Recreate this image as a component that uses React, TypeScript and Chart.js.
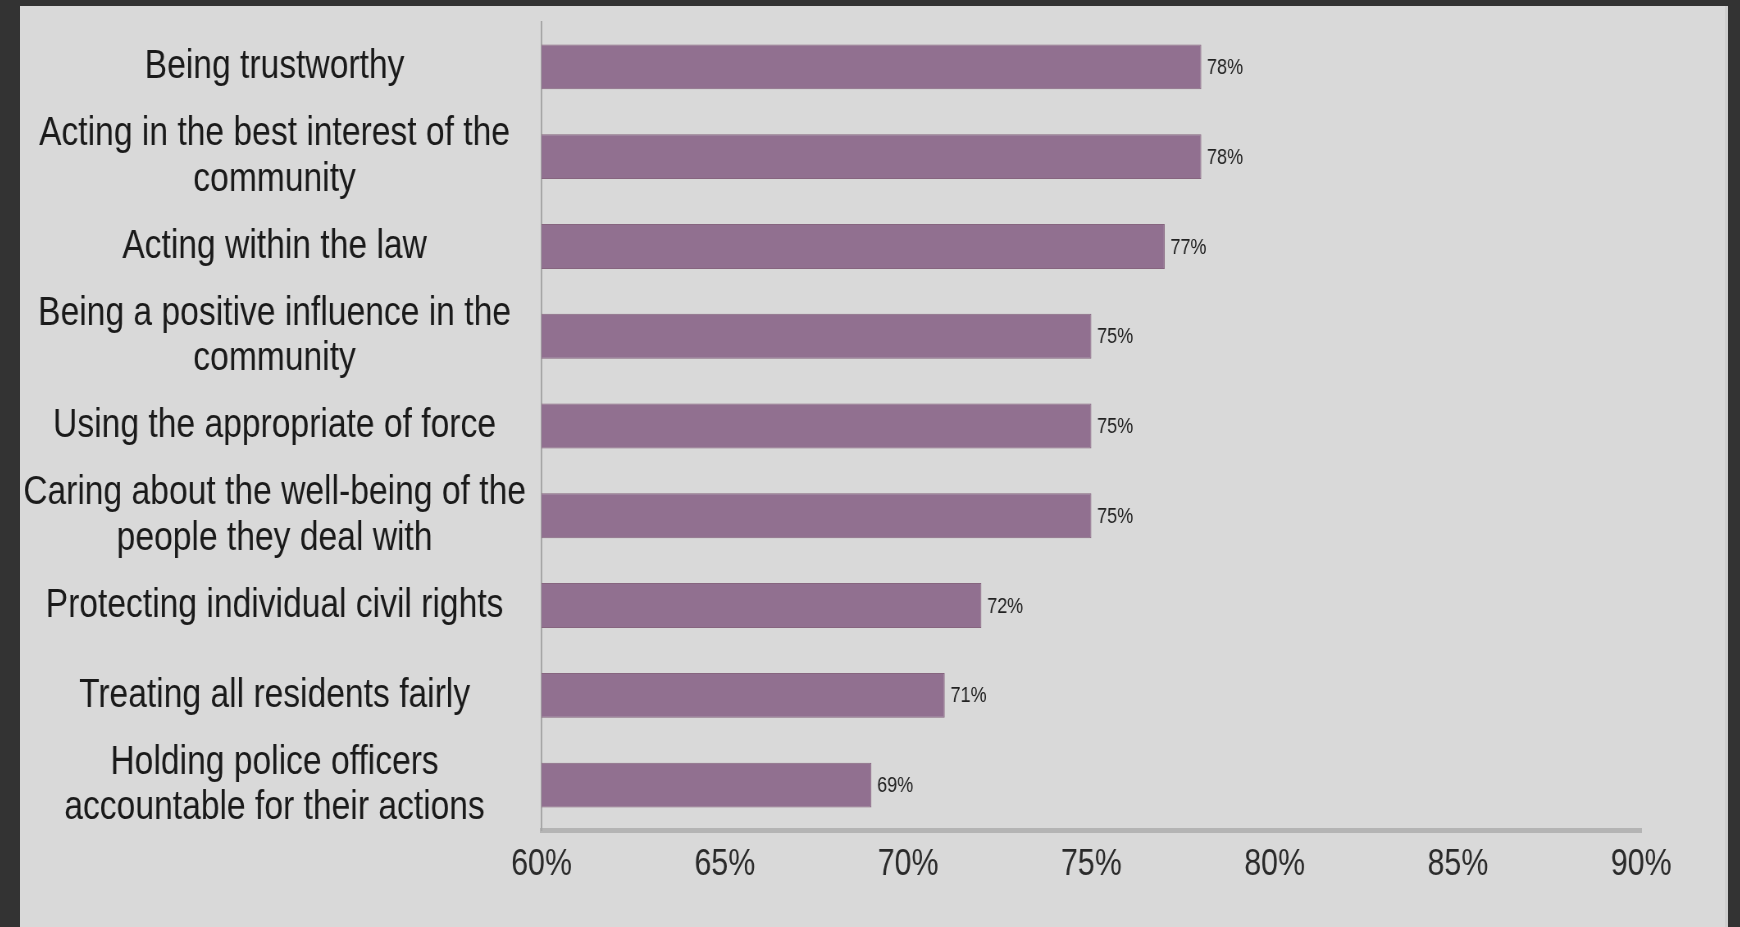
import React, { useEffect, useRef } from "react";
import { Chart, registerables } from "chart.js";

Chart.register(...registerables);

const categories: (string | string[])[] = [
  "Being trustworthy",
  ["Acting in the best interest of the", "community"],
  "Acting within the law",
  ["Being a positive influence in the", "community"],
  "Using the appropriate of force",
  ["Caring about the well-being of the", "people they deal with"],
  "Protecting individual civil rights",
  "Treating all residents fairly",
  ["Holding police officers", "accountable for their actions"],
];

const values: number[] = [78, 78, 77, 75, 75, 75, 72, 71, 69];

const xMin = 60;
const xMax = 90;
const xStep = 5;

// The reference uses a narrow (Arial Narrow-like) face; we render with
// Liberation Sans and compress the canvas horizontally to mimic it.
const NARROW = 0.82;
const PANEL_W = 1708;
const PANEL_H = 921;
const CANVAS_W = Math.round(PANEL_W / NARROW);

const FONT = "'Liberation Sans', Arial, sans-serif";

const valueLabels = {
  id: "valueLabels",
  afterDatasetsDraw(chart: any) {
    const ctx = chart.ctx;
    const meta = chart.getDatasetMeta(0);
    ctx.save();
    ctx.font = `22px ${FONT}`;
    ctx.fillStyle = "#222222";
    ctx.textAlign = "left";
    ctx.textBaseline = "middle";
    meta.data.forEach((bar: any, i: number) => {
      ctx.fillText(`${values[i]}%`, bar.x + 7, bar.y + 1);
    });
    ctx.restore();
  },
};

export default function App() {
  const canvasRef = useRef<HTMLCanvasElement | null>(null);

  useEffect(() => {
    if (!canvasRef.current) return;
    const chart = new Chart(canvasRef.current, {
      type: "bar",
      data: {
        labels: categories,
        datasets: [
          {
            data: values,
            backgroundColor: "#917090",
            borderColor: "#86657f",
            borderWidth: 1,
            barPercentage: 0.5,
            categoryPercentage: 1,
          },
        ],
      },
      options: {
        indexAxis: "y",
        animation: false,
        responsive: true,
        maintainAspectRatio: false,
        layout: { padding: { top: 16, right: 106, left: 0, bottom: 0 } },
        plugins: {
          legend: { display: false },
          tooltip: { enabled: false },
        },
        scales: {
          x: {
            min: xMin,
            max: xMax,
            grid: { display: false },
            border: { display: true, color: "#b4b4b4", width: 5 },
            ticks: {
              stepSize: xStep,
              padding: 5,
              color: "#2a2a2a",
              font: { family: FONT, size: 37 },
              callback: (v: any) => `${v}%`,
            },
            afterFit: (scale: any) => {
              scale.height = 97;
              scale.paddingLeft = 0;
              scale.paddingRight = 0;
            },
          },
          y: {
            grid: { display: false },
            border: { display: true, color: "#a6a6a6", width: 2 },
            ticks: {
              autoSkip: false,
              crossAlign: "center",
              padding: 11,
              color: "#1a1a1a",
              font: { family: FONT, size: 41, lineHeight: 1.11 },
            },
            afterFit: (scale: any) => {
              scale.width = 636;
              scale.paddingTop = 0;
              scale.paddingBottom = 0;
            },
          },
        },
      },
      plugins: [valueLabels],
    });
    return () => chart.destroy();
  }, []);

  return (
    <div style={{ position: "fixed", inset: 0, background: "#333333", overflow: "hidden" }}>
      <div
        style={{
          position: "absolute",
          left: 20,
          top: 6,
          width: PANEL_W - 3,
          height: PANEL_H,
          background: "#d9d9d9",
          borderRight: "3px solid #cfcfcf",
          overflow: "hidden",
        }}
      >
        <div
          style={{
            position: "absolute",
            left: 0,
            top: 0,
            width: CANVAS_W,
            height: PANEL_H,
            transform: `scaleX(${NARROW})`,
            transformOrigin: "0 0",
          }}
        >
          <canvas ref={canvasRef} />
        </div>
      </div>
    </div>
  );
}
